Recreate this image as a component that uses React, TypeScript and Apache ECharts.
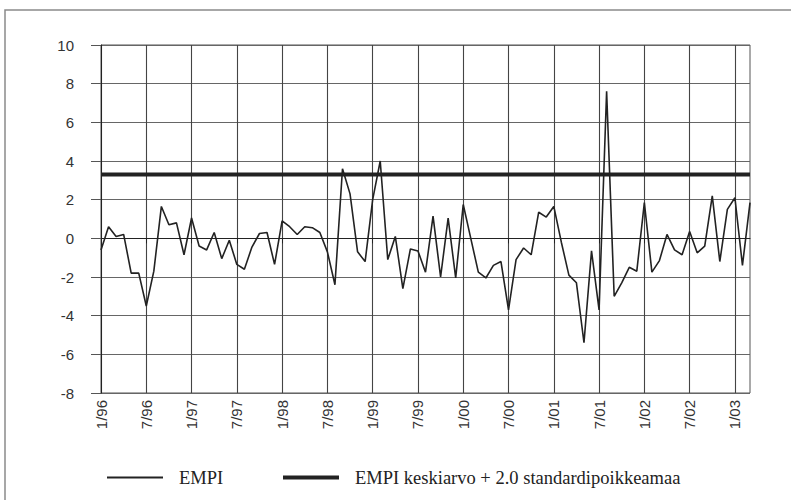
import React, { useEffect, useRef } from "react";
import * as echarts from "echarts";

const years = ["96", "97", "98", "99", "00", "01", "02", "03"];
const months = [1, 2, 3, 4, 5, 6, 7, 8, 9, 10, 11, 12];
const categories: string[] = [];
years.forEach((y) => {
  months.forEach((m) => {
    if (y === "03" && m > 3) return;
    categories.push(`${m}/${y}`);
  });
});

const empi = [
  -0.6, 0.6, 0.1, 0.2, -1.8, -1.8, -3.5, -1.7, 1.65, 0.7, 0.8, -0.85,
  1.05, -0.4, -0.6, 0.3, -1.05, -0.1, -1.35, -1.6, -0.45, 0.25, 0.3, -1.35,
  0.9, 0.6, 0.2, 0.6, 0.55, 0.3, -0.7, -2.4, 3.6, 2.3, -0.7, -1.2,
  2.0, 4.0, -1.1, 0.1, -2.6, -0.55, -0.65, -1.75, 1.15, -2.0, 1.05, -2.05,
  1.75, 0.0, -1.75, -2.05, -1.4, -1.2, -3.7, -1.1, -0.5, -0.85, 1.35, 1.1,
  1.65, -0.2, -1.9, -2.3, -5.4, -0.65, -3.7, 7.6, -3.0, -2.3, -1.5, -1.7,
  1.85, -1.75, -1.15, 0.2, -0.6, -0.85, 0.35, -0.75, -0.4, 2.2, -1.2, 1.5,
  2.1, -1.4, 1.85,
];

const threshold = 3.3;
const thresholdLine = categories.map(() => threshold);

const seriesNames = ["EMPI", "EMPI keskiarvo + 2.0 standardipoikkeamaa"];

export default function App() {
  const ref = useRef<HTMLDivElement>(null);
  useEffect(() => {
    if (!ref.current) return;
    const chart = echarts.init(ref.current, null, { renderer: "svg" });
    const legendText = {
      fontFamily: "Liberation Serif",
      fontSize: 18.5,
      color: "#222",
      padding: [0, 0, 0, 11],
    };
    chart.setOption({
      animation: false,
      backgroundColor: "#fff",
      graphic: [
        {
          type: "rect",
          shape: { x: 5, y: 10, width: 820, height: 520 },
          style: { fill: "none", stroke: "#8a8a8a", lineWidth: 1.5 },
          silent: true,
        },
      ],
      grid: {
        left: 101,
        right: 41,
        top: 45,
        bottom: 107,
        show: true,
        borderColor: "#555",
        borderWidth: 1,
        backgroundColor: "transparent",
      },
      legend: [
        {
          data: [{ name: seriesNames[0], icon: "rect" }],
          left: 107,
          top: 468,
          padding: 0,
          itemWidth: 56,
          itemHeight: 2,
          textStyle: legendText,
          selectedMode: false,
        },
        {
          data: [{ name: seriesNames[1], icon: "rect" }],
          left: 283,
          top: 468,
          padding: 0,
          itemWidth: 56,
          itemHeight: 4,
          textStyle: legendText,
          selectedMode: false,
        },
      ],
      xAxis: {
        type: "category",
        data: categories,
        boundaryGap: false,
        axisLine: { lineStyle: { color: "#222", width: 1 } },
        axisTick: {
          show: true,
          length: 5,
          interval: (i: number) => i % 6 === 0,
          lineStyle: { color: "#222" },
        },
        axisLabel: {
          interval: (i: number) => i % 6 === 0,
          rotate: 90,
          margin: 7,
          fontFamily: "Liberation Sans",
          fontSize: 15,
          color: "#333",
        },
        splitLine: {
          show: true,
          interval: (i: number) => i % 6 === 0,
          lineStyle: { color: "#444", width: 1.1 },
        },
      },
      yAxis: {
        type: "value",
        min: -8,
        max: 10,
        interval: 2,
        axisLine: { show: true, lineStyle: { color: "#222", width: 1 } },
        axisTick: { show: true, length: 10, lineStyle: { color: "#555" } },
        axisLabel: {
          margin: 27,
          fontFamily: "Liberation Sans",
          fontSize: 15,
          color: "#333",
        },
        splitLine: { show: true, lineStyle: { color: "#666", width: 1.2 } },
      },
      series: [
        {
          name: seriesNames[0],
          type: "line",
          data: empi,
          symbol: "none",
          lineStyle: { color: "#222", width: 1.6 },
          itemStyle: { color: "#222" },
          z: 3,
        },
        {
          name: seriesNames[1],
          type: "line",
          data: thresholdLine,
          symbol: "none",
          lineStyle: { color: "#222", width: 4 },
          itemStyle: { color: "#222" },
          z: 2,
        },
      ],
    });
    return () => chart.dispose();
  }, []);
  return (
    <div
      ref={ref}
      style={{ position: "fixed", left: 0, top: 0, width: 791, height: 500 }}
    />
  );
}
